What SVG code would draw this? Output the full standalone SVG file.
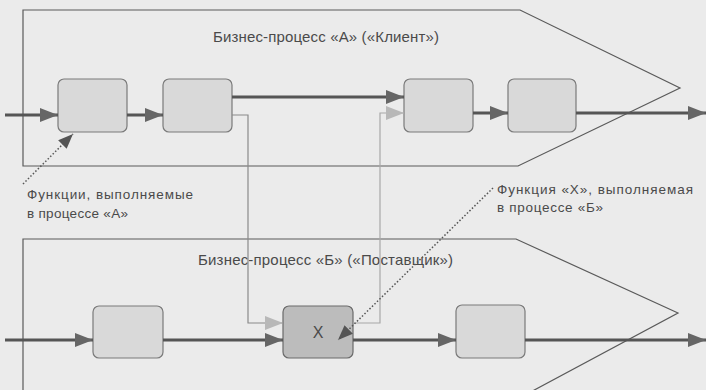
<svg xmlns="http://www.w3.org/2000/svg" width="706" height="390" viewBox="0 0 706 390">
<style>
.lane{fill:none;stroke:#5a5a5a;stroke-width:1.2}
.node{fill:#d9d9d9;stroke:#7a7a7a;stroke-width:1.2}
.nodex{fill:#bcbcbc;stroke:#6a6a6a;stroke-width:1.2}
.flow{fill:none;stroke:#555;stroke-width:3}
.thin{fill:none;stroke:#8a8a8a;stroke-width:1.2}
.thinl{fill:none;stroke:#a8a8a8;stroke-width:1.2}
.dot{fill:none;stroke:#555;stroke-width:1.5;stroke-dasharray:1.5 2}
.t{font-family:"Liberation Sans",Arial,sans-serif;fill:#4a4a4a}
.title{font-size:15px}
.note{font-size:13.5px}
</style>
<defs>
<marker id="ad" markerUnits="userSpaceOnUse" markerWidth="20" markerHeight="16" refX="18" refY="7" orient="auto"><path d="M0,0 L18,7 L0,14 Z" fill="#666"/></marker>
<marker id="al" markerUnits="userSpaceOnUse" markerWidth="20" markerHeight="16" refX="18" refY="7" orient="auto"><path d="M0,0 L18,7 L0,14 Z" fill="#b8b8b8"/></marker>
<marker id="ap" markerUnits="userSpaceOnUse" markerWidth="18" markerHeight="14" refX="15" refY="6" orient="auto"><path d="M0,0 L15,6 L0,12 Z" fill="#555"/></marker>
</defs>
<rect width="706" height="390" fill="#ebebeb"/>
<g id="processA">
<path class="lane" d="M23,10 L520,10 L680,88 L518,166 L23,166 Z"/>
<text class="t title" x="213" y="42" textLength="226" lengthAdjust="spacing">Бизнес-процесс «А» («Клиент»)</text>
</g>
<g id="processB">
<path class="lane" d="M23,400 L23,239 L516,239 L678,313 L525,395"/>
<text class="t title" x="198" y="265" textLength="255" lengthAdjust="spacing">Бизнес-процесс «Б» («Поставщик»)</text>
</g>
<g id="a1"><rect class="node" x="58" y="79" width="69" height="53" rx="6"/></g>
<g id="a2"><rect class="node" x="163" y="79" width="69" height="53" rx="6"/></g>
<g id="a3"><rect class="node" x="404" y="79" width="69" height="53" rx="6"/></g>
<g id="a4"><rect class="node" x="508" y="79" width="68" height="53" rx="6"/></g>
<g id="b1"><rect class="node" x="93" y="306" width="70" height="52" rx="6"/></g>
<g id="bx"><rect class="nodex" x="283" y="306" width="70" height="52" rx="6"/><text class="t" x="318" y="338" font-size="16" text-anchor="middle">X</text></g>
<g id="b2"><rect class="node" x="456" y="305" width="69" height="53" rx="6"/></g>
<g id="connectors">
<path class="flow" d="M5,115 L58,115" marker-end="url(#ad)"/>
<path class="flow" d="M127,115 L163,115" marker-end="url(#ad)"/>
<path class="flow" d="M232,97 L404,97" marker-end="url(#ad)"/>
<path class="flow" d="M473,113 L508,113" marker-end="url(#ad)"/>
<path class="flow" d="M576,113 L706,113" marker-end="url(#ad)"/>
<path class="flow" d="M5,340 L93,340" marker-end="url(#ad)"/>
<path class="flow" d="M163,340 L283,340" marker-end="url(#ad)"/>
<path class="flow" d="M353,340 L456,340" marker-end="url(#ad)"/>
<path class="flow" d="M525,340 L706,340" marker-end="url(#ad)"/>
<path class="thin" d="M232,115 L248,115 L248,323 L283,323" marker-end="url(#al)"/>
<path class="thinl" d="M353,323 L380,323 L380,113 L404,113" marker-end="url(#al)"/>
<path class="dot" d="M23,184 L73,134" marker-end="url(#ap)"/>
<path class="dot" d="M493,188 L338,340" marker-end="url(#ap)"/>
</g>
<g id="noteA">
<text class="t note" x="27" y="199" textLength="166" lengthAdjust="spacing">Функции, выполняемые</text>
<text class="t note" x="27" y="218" textLength="101" lengthAdjust="spacing">в процессе «А»</text>
</g>
<g id="noteX">
<text class="t note" x="497" y="194" textLength="196" lengthAdjust="spacing">Функция «Х», выполняемая</text>
<text class="t note" x="497" y="212" textLength="106" lengthAdjust="spacing">в  процессе «Б»</text>
</g>
</svg>
